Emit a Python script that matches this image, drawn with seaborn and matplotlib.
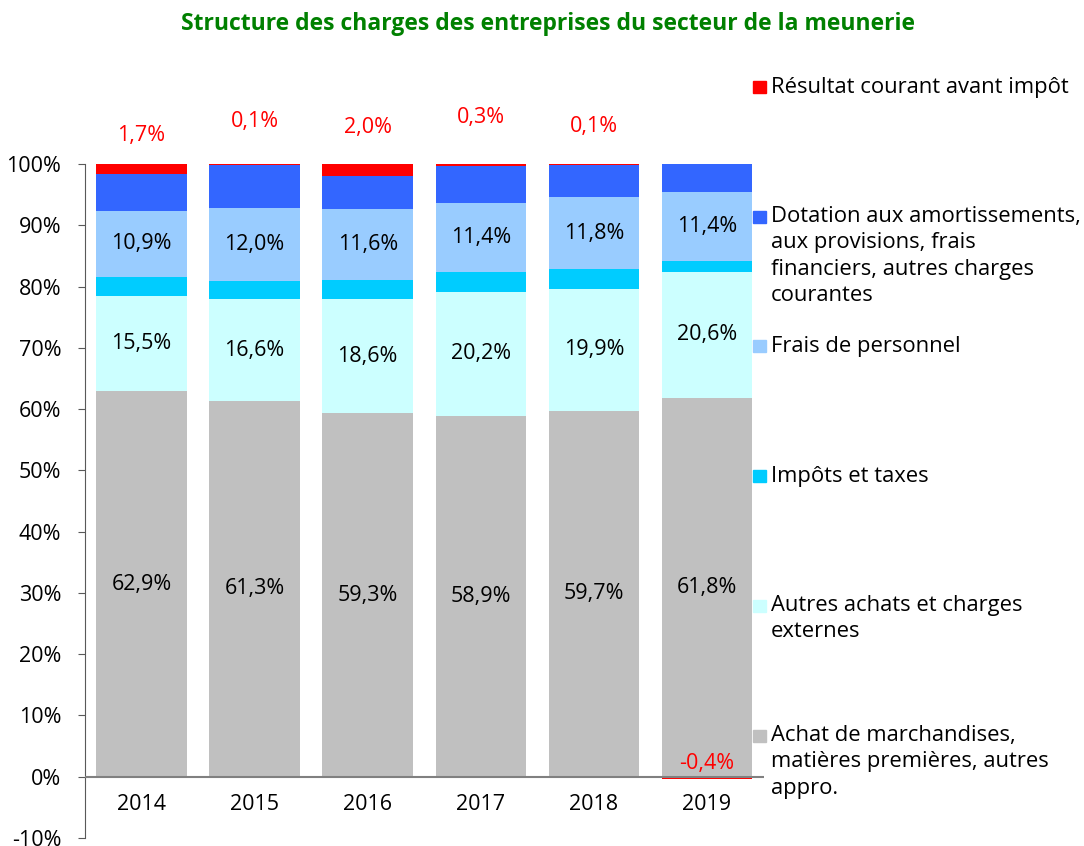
import matplotlib
matplotlib.use("Agg")
import matplotlib.pyplot as plt
import matplotlib.patches as mpatches
import numpy as np
import pandas as pd
import seaborn as sns

# Data (% of total charges)
years = ["2014", "2015", "2016", "2017", "2018", "2019"]
achats_march = [62.9, 61.3, 59.3, 58.9, 59.7, 61.8]
autres_achats = [15.5, 16.6, 18.6, 20.2, 19.9, 20.6]
impots = [3.1, 3.0, 3.1, 3.2, 3.2, 1.7]
personnel = [10.9, 12.0, 11.6, 11.4, 11.8, 11.4]
dotation = [5.9, 7.0, 5.4, 6.0, 5.3, 4.5]
resultat = [1.7, 0.1, 2.0, 0.3, 0.1, -0.4]

series_names = [
    "Achat de marchandises,\nmatières premières, autres\nappro.",
    "Autres achats et charges\nexternes",
    "Impôts et taxes",
    "Frais de personnel",
    "Dotation aux amortissements,\naux provisions, frais\nfinanciers, autres charges\ncourantes",
    "Résultat courant avant impôt",
]
colors = ["#C0C0C0", "#CCFFFF", "#00CCFF", "#99CCFF", "#3366FF", "#FF0000"]

FONT = "Open Sans"
plt.rcParams["font.family"] = [FONT, "DejaVu Sans"]
FS = 15.5

df = pd.DataFrame({
    "year": years,
    "achats": achats_march,
    "autres": autres_achats,
    "impots": impots,
    "personnel": personnel,
    "dotation": dotation,
    "res_pos": np.clip(resultat, 0, None),
    "res_neg": np.clip(resultat, None, 0),
})
cols = ["achats", "autres", "impots", "personnel", "dotation", "res_pos"]
cum = df[cols].cumsum(axis=1)

fig = plt.figure(figsize=(10.84, 8.46), dpi=100)
ax = fig.add_axes([0.0784, 0.0095, 0.626, 0.7966])

# stacked bars: draw cumulative totals from the top layer down
for col, color in zip(reversed(cols), reversed(colors)):
    sns.barplot(data=cum.assign(year=years), x="year", y=col, color=color,
                saturation=1, width=0.8, linewidth=0, errorbar=None, ax=ax)
sns.barplot(data=df, x="year", y="res_neg", color=colors[-1], saturation=1,
            width=0.8, linewidth=0, errorbar=None, ax=ax)

ax.set_ylim(-10, 100)
ax.set_xlim(-0.5, len(years) - 0.5)
ax.set_yticks(range(-10, 101, 10))
ax.set_yticklabels([f"{t}%" for t in range(-10, 101, 10)], fontsize=FS)
ax.tick_params(axis="y", length=5, color="#595959", pad=12)
ax.set_xticks([])
ax.set_xlabel("")
ax.set_ylabel("")
for side in ["top", "right", "bottom"]:
    ax.spines[side].set_visible(False)
ax.spines["left"].set_color("#595959")
ax.axhline(0, color="#808080", lw=1.5, zorder=5)

# year labels sit just under the zero line
for i, y in enumerate(years):
    ax.text(i, -4.5, y, ha="center", va="center", fontsize=FS)

# values inside the segments
label_sets = [(achats_march, 0), (autres_achats, 1), (personnel, 3)]
for vals, k in label_sets:
    base = cum[cols[k - 1]] if k > 0 else np.zeros(len(years))
    for i, v in enumerate(vals):
        ax.text(i, base[i] + v / 2, f"{v:.1f}%".replace(".", ","),
                ha="center", va="center", fontsize=FS, color="black", zorder=6)

# résultat labels (red), above the bars or just above zero if negative
res_label_y = [104.7, 107.0, 105.9, 107.6, 106.2]
for i, v in enumerate(resultat):
    txt = f"{v:.1f}%".replace(".", ",")
    if v >= 0:
        ax.text(i, res_label_y[i], txt, ha="center", va="center", fontsize=FS,
                color="#FF0000", clip_on=False)
    else:
        ax.text(i, 0.5, txt, ha="center", va="bottom", fontsize=FS,
                color="#FF0000", zorder=6)

# legend drawn by hand on the right, top entry first
leg_y = [87, 217, 346, 476, 606, 736]
for name, color, yp in zip(reversed(series_names), reversed(colors), leg_y):
    fy = 1 - yp / 846
    fig.patches.append(mpatches.Rectangle((753 / 1084, fy - 6.25 / 846), 12.5 / 1084, 12.5 / 846,
                                          transform=fig.transFigure, color=color))
    if "\n" in name:
        fig.text(771 / 1084, fy + 11 / 846, name, ha="left", va="top", fontsize=15.8,
                 linespacing=1.33)
    else:
        fig.text(771 / 1084, fy - 6 / 846, name, ha="left", va="baseline", fontsize=15.8)

fig.text(548 / 1084, 1 - 24 / 846, "Structure des charges des entreprises du secteur de la meunerie",
         ha="center", va="center", fontsize=16.5, fontweight="bold", color="#008000")

fig.savefig("out.png", dpi=100)
